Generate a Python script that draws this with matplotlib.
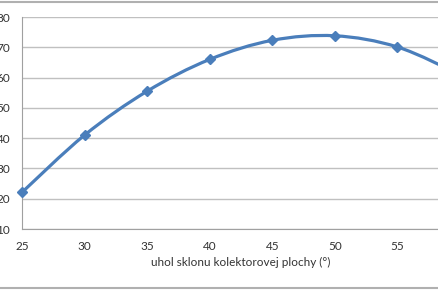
import matplotlib
matplotlib.use("Agg")
import matplotlib.pyplot as plt
from matplotlib.path import Path
from matplotlib.patches import PathPatch
from matplotlib.lines import Line2D
import numpy as np

# angle of collector surface (deg) vs. value
uhol = [25, 30, 35, 40, 45, 50, 55, 60]
hodnoty = [22.1, 41.0, 55.5, 66.0, 72.3, 73.8, 70.1, 61.0]
yticks = [10, 20, 30, 40, 50, 60, 70, 80]
xticks = [25, 30, 35, 40, 45, 50, 55, 60]
xlabel = "uhol sklonu kolektorovej plochy (°)"

blue = '#4a7ebb'
grid_c = '#c0c0c0'

plt.rcParams['font.family'] = ['Lato', 'DejaVu Sans']

fig = plt.figure(figsize=(4.38, 2.92), dpi=100)
ax = fig.add_axes([22/438, (292-229)/292, (460-22)/438, (229-17)/292])

# smoothed line (Catmull-Rom as cubic bezier, like excel "smoothed line")
pts = list(zip(uhol, hodnoty))
verts = [pts[0]]
codes = [Path.MOVETO]
for i in range(len(pts) - 1):
    p0 = np.array(pts[i - 1] if i > 0 else pts[i])
    p1 = np.array(pts[i])
    p2 = np.array(pts[i + 1])
    p3 = np.array(pts[i + 2] if i + 2 < len(pts) else pts[i + 1])
    c1 = p1 + (p2 - p0) / 6.0
    c2 = p2 - (p3 - p1) / 6.0
    verts += [tuple(c1), tuple(c2), tuple(p2)]
    codes += [Path.CURVE4] * 3
ax.add_patch(PathPatch(Path(verts, codes), fill=False, edgecolor=blue,
                       lw=2.3, capstyle='round', joinstyle='round', zorder=3))
ax.plot(uhol, hodnoty, ls='none', marker='D', ms=5.5, color=blue, zorder=4,
        clip_on=False)

ax.set_xlim(25, 60)
ax.set_ylim(10, 80)
ax.set_xticks(xticks)
ax.set_yticks(yticks)
ax.grid(axis='y', color=grid_c, lw=1)
ax.set_axisbelow(True)
for s in ['top', 'right']:
    ax.spines[s].set_visible(False)
ax.spines['left'].set_color('#a0a0a0')
ax.spines['bottom'].set_color('#a0a0a0')
ax.tick_params(length=0, labelsize=8.5, labelcolor='#333333')
ax.tick_params(axis='x', pad=9)
ax.tick_params(axis='y', pad=8.5)
ax.set_xlabel(xlabel, fontsize=8.5, color='#333333', labelpad=3)

# chart frame lines (top and bottom)
fig.add_artist(Line2D([0, 1], [1 - 2/292, 1 - 2/292], transform=fig.transFigure,
                      color='#b0b0b0', lw=1.5))
fig.add_artist(Line2D([0, 1], [1 - 288/292, 1 - 288/292], transform=fig.transFigure,
                      color='#b0b0b0', lw=1.5))

fig.savefig('out.png', dpi=100)
